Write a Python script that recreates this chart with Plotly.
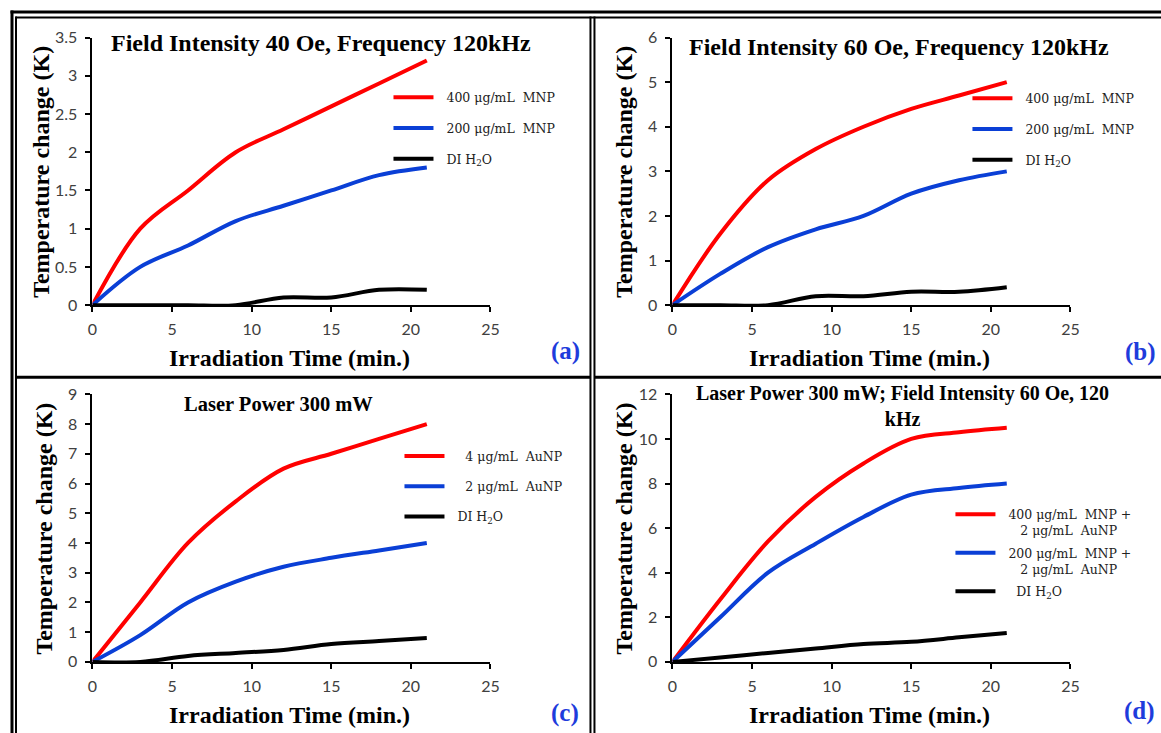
import plotly.graph_objects as go

W, H = 1161, 733

# ---------------- data ----------------
time_min = [0, 3, 6, 9, 12, 15, 18, 21]

a_400_mnp = [0, 1.0, 1.5, 2.0, 2.3, 2.6, 2.9, 3.2]
a_200_mnp = [0, 0.5, 0.78, 1.1, 1.3, 1.5, 1.7, 1.8]
a_water = [0, 0, 0, 0, 0.1, 0.1, 0.2, 0.2]

b_400_mnp = [0, 1.6, 2.8, 3.5, 4.0, 4.4, 4.7, 5.0]
b_200_mnp = [0, 0.7, 1.3, 1.7, 2.0, 2.5, 2.8, 3.0]
b_water = [0, 0, 0, 0.2, 0.2, 0.3, 0.3, 0.4]

c_4_aunp = [0, 2.0, 4.0, 5.4, 6.5, 7.0, 7.5, 8.0]
c_2_aunp = [0, 0.9, 2.0, 2.7, 3.2, 3.5, 3.75, 4.0]
c_water = [0, 0, 0.2, 0.3, 0.4, 0.6, 0.7, 0.8]

d_400_mix = [0, 2.8, 5.4, 7.4, 8.9, 10.0, 10.3, 10.5]
d_200_mix = [0, 2.0, 4.0, 5.3, 6.5, 7.5, 7.8, 8.0]
d_water = [0, 0.2, 0.4, 0.6, 0.8, 0.9, 1.1, 1.3]

x_ticks = [0, 5, 10, 15, 20, 25]
panel_titles = [
    "Field Intensity 40 Oe, Frequency 120kHz",
    "Field Intensity 60 Oe, Frequency 120kHz",
    "Laser Power 300 mW",
    "Laser Power 300 mW; Field Intensity 60 Oe, 120<br>kHz",
]
panel_letters = ["(a)", "(b)", "(c)", "(d)"]
y_ranges = [(0, 3.5, 0.5), (0, 6, 1), (0, 9, 1), (0, 12, 2)]
legend_names = [
    ["  400 μg/mL  MNP", "  200 μg/mL  MNP", "  DI H<sub>2</sub>O"],
    ["  400 μg/mL  MNP", "  200 μg/mL  MNP", "  DI H<sub>2</sub>O"],
    ["    4 μg/mL  AuNP", "    2 μg/mL  AuNP", "  DI H<sub>2</sub>O"],
    ["  400 μg/mL  MNP +<br>     2 μg/mL  AuNP", "  200 μg/mL  MNP +<br>     2 μg/mL  AuNP", "    DI H<sub>2</sub>O"],
]
series = [
    [a_400_mnp, a_200_mnp, a_water],
    [b_400_mnp, b_200_mnp, b_water],
    [c_4_aunp, c_2_aunp, c_water],
    [d_400_mix, d_200_mix, d_water],
]
colors = ["#ff0000", "#0a3fd6", "#000000"]

# ---------------- layout helpers ----------------
# positions are given in target-picture pixels and mapped to paper fractions
OX, SX, OY, SY = 4.5, 0.988, 10.5, 0.972

def px(x):
    return ((x - OX) / SX) / W

def py(y):
    return 1 - ((y - OY) / SY) / H

# plot-area boxes in pixels (left, right, top, bottom)
boxes = [(92, 490, 38, 305), (672, 1070, 38, 305), (92, 490, 394, 661), (672, 1070, 394, 661)]
ytitle_x = [41, 624, 44, 624]
letter_pos = [(565, 351), (1140, 352), (565, 712), (1139, 710)]

SERIF = "Liberation Serif"
LEG_FONT = "DejaVu Serif"
SANS = "Lato"

fig = go.Figure()
for i in range(4):
    xa = "x" if i == 0 else f"x{i+1}"
    ya = "y" if i == 0 else f"y{i+1}"
    lg = "legend" if i == 0 else f"legend{i+1}"
    for j in range(3):
        fig.add_trace(go.Scatter(
            x=time_min, y=series[i][j], mode="lines",
            line=dict(color=colors[j], width=4, shape="spline", smoothing=1),
            name=legend_names[i][j], xaxis=xa, yaxis=ya, legend=lg,
            legendgroup=f"g{i}{j}", showlegend=True,
        ))

layout = dict(
    width=W, height=H, margin=dict(l=0, r=0, t=0, b=0),
    paper_bgcolor="white", plot_bgcolor="white", showlegend=True,
)

annotations = []
for i, (l, r, t, b) in enumerate(boxes):
    sx = "" if i == 0 else str(i + 1)
    y0, y1, dy = y_ranges[i]
    layout[f"xaxis{sx}"] = dict(
        domain=[px(l), px(r)], range=[0, 25], anchor=f"y{sx}" if sx else "y",
        tickvals=x_ticks, ticks="outside", ticklen=5, tickwidth=2, tickcolor="black",
        showline=True, linecolor="black", linewidth=2, showgrid=False, zeroline=False,
        tickfont=dict(family=SANS, size=16, color="#404040"), fixedrange=True,
        ticklabelstandoff=4,
    )
    layout[f"yaxis{sx}"] = dict(
        domain=[py(b), py(t)], range=[y0, y1], anchor=f"x{sx}" if sx else "x",
        dtick=dy, ticks="outside", ticklen=5, tickwidth=2, tickcolor="black",
        showline=True, linecolor="black", linewidth=2, showgrid=False, zeroline=False,
        tickfont=dict(family=SANS, size=16, color="#404040"), fixedrange=True,
        ticklabelstandoff=5,
    )
    annotations.append(dict(
        text="Irradiation Time (min.)", x=px((l + r) / 2 - 2), y=py(b + 53),
        xref="paper", yref="paper", showarrow=False, xanchor="center", yanchor="middle",
        font=dict(family=SERIF, size=24, color="black", weight="bold"),
    ))
    annotations.append(dict(
        text="Temperature change (K)", x=px(ytitle_x[i]), y=py((t + b) / 2),
        xref="paper", yref="paper", showarrow=False, xanchor="center", yanchor="middle",
        textangle=-90, font=dict(family=SERIF, size=24, color="black", weight="bold"),
    ))
    annotations.append(dict(
        text=panel_letters[i], x=px(letter_pos[i][0]), y=py(letter_pos[i][1]),
        xref="paper", yref="paper", showarrow=False, xanchor="center", yanchor="middle",
        font=dict(family=SERIF, size=25, color="#1e3cdc", weight="bold"),
    ))

title_pos = [(321, 43, 24), (899, 47, 24), (278, 404, 20.5), (902, 406, 20)]
for i, (cx, cy, fs) in enumerate(title_pos):
    annotations.append(dict(
        text=panel_titles[i], x=px(cx), y=py(cy), xref="paper", yref="paper",
        showarrow=False, xanchor="center", yanchor="middle", align="center",
        font=dict(family=SERIF, size=fs, color="black", weight="bold"),
    ))
layout["annotations"] = annotations

legend_pos = [(388, 83, 11.5), (967, 84, 11.5), (399, 441, 11), (950, 499, 3)]
for i, (lx, ly, gap) in enumerate(legend_pos):
    key = "legend" if i == 0 else f"legend{i+1}"
    layout[key] = dict(
        x=px(lx), y=py(ly), xref="paper", yref="paper", xanchor="left", yanchor="top",
        bgcolor="rgba(0,0,0,0)", borderwidth=0,
        font=dict(family=LEG_FONT, size=12.5, color="#222222"),
        tracegroupgap=gap, valign="top", itemwidth=40,
    )

shapes = []
def hline(y, x0, x1, w):
    shapes.append(dict(type="line", xref="paper", yref="paper", x0=px(x0), x1=px(x1),
                       y0=py(y), y1=py(y), line=dict(color="black", width=w)))
def vline(x, y0, y1, w):
    shapes.append(dict(type="line", xref="paper", yref="paper", x0=px(x), x1=px(x),
                       y0=py(y0), y1=py(y1), line=dict(color="black", width=w)))

hline(12.5, 10, 1180, 3)
vline(11.5, 11, 740, 3)
hline(18, 15, 1180, 2)
vline(15.5, 17, 740, 2)
vline(590, 17, 740, 2)
vline(594, 17, 740, 2)
hline(377, 15, 590, 3)
hline(377, 594, 1180, 3)
layout["shapes"] = shapes

fig.update_layout(**layout)
fig.write_html(
    "out.html",
    config={"displayModeBar": False},
    post_script="document.body.style.margin='0';document.body.style.overflow='hidden';",
)
